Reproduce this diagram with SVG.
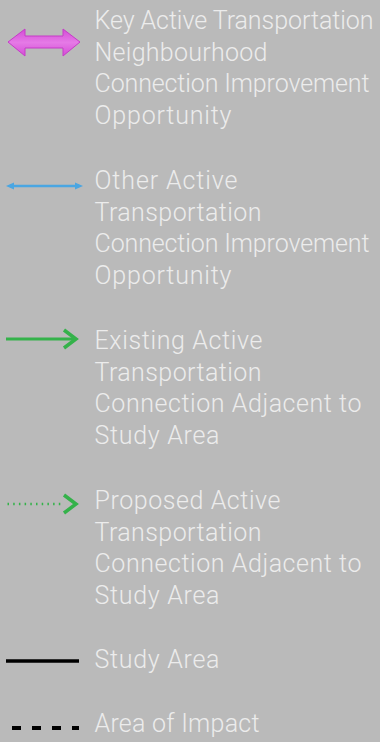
<svg xmlns="http://www.w3.org/2000/svg" width="380" height="742" viewBox="0 0 380 742">
<style>
.t{font-family:Roboto,"Liberation Sans",sans-serif;font-weight:300;font-size:25px;fill:#ececec}
</style>
<defs>
<linearGradient id="mg" x1="0" y1="0" x2="0" y2="1">
<stop offset="0" stop-color="#d44cd6"/><stop offset="0.5" stop-color="#e57ae6"/><stop offset="1" stop-color="#d44cd6"/>
</linearGradient>
</defs>
<rect width="380" height="742" fill="#bababa"/>
<g id="connectors">
<g id="sym-key">
<polygon points="8,42 25,29 25,36 63,36 63,29 80,42 63,56 63,48 25,48 25,56" fill="url(#mg)" stroke="#c63cc8" stroke-width="1"/>
</g>
<g id="sym-other">
<line x1="10" y1="186" x2="79" y2="186" stroke="#4aa6e2" stroke-width="2.5"/>
<polygon points="6,186 14,182.5 14,189.5" fill="#4aa6e2"/>
<polygon points="83,186 75,182.5 75,189.5" fill="#4aa6e2"/>
</g>
<g id="sym-existing">
<line x1="6" y1="339" x2="74" y2="339" stroke="#34b24a" stroke-width="3"/>
<polyline points="64,330 76,339 64,348" fill="none" stroke="#34b24a" stroke-width="3.5"/>
</g>
<g id="sym-proposed">
<line x1="7.5" y1="504" x2="62" y2="504" stroke="#34b24a" stroke-width="2.5" stroke-dasharray="1.5 4.2"/>
<polyline points="64,495 76,504 64,513" fill="none" stroke="#34b24a" stroke-width="3.5"/>
</g>
<g id="sym-study">
<line x1="6" y1="661" x2="79" y2="661" stroke="#000" stroke-width="3.5"/>
</g>
<g id="sym-impact">
<line x1="12" y1="728" x2="79" y2="728" stroke="#000" stroke-width="4" stroke-dasharray="9 11"/>
</g>
</g>
<g id="label-key">
<text class="t" x="94.5" y="29" textLength="279" lengthAdjust="spacing">Key Active Transportation</text>
<text class="t" x="94.5" y="60.5" textLength="173" lengthAdjust="spacing">Neighbourhood</text>
<text class="t" x="94.5" y="92" textLength="275" lengthAdjust="spacing">Connection Improvement</text>
<text class="t" x="94.5" y="123.5" textLength="137" lengthAdjust="spacing">Opportunity</text>
</g>
<g id="label-other">
<text class="t" x="94.5" y="189" textLength="143" lengthAdjust="spacing">Other Active</text>
<text class="t" x="94.5" y="220.5" textLength="167" lengthAdjust="spacing">Transportation</text>
<text class="t" x="94.5" y="252" textLength="275" lengthAdjust="spacing">Connection Improvement</text>
<text class="t" x="94.5" y="283.5" textLength="137" lengthAdjust="spacing">Opportunity</text>
</g>
<g id="label-existing">
<text class="t" x="94.5" y="349" textLength="168" lengthAdjust="spacing">Existing Active</text>
<text class="t" x="94.5" y="380.5" textLength="167" lengthAdjust="spacing">Transportation</text>
<text class="t" x="94.5" y="412" textLength="267" lengthAdjust="spacing">Connection Adjacent to</text>
<text class="t" x="94.5" y="443.5" textLength="125" lengthAdjust="spacing">Study Area</text>
</g>
<g id="label-proposed">
<text class="t" x="94.5" y="509" textLength="186" lengthAdjust="spacing">Proposed Active</text>
<text class="t" x="94.5" y="540.5" textLength="167" lengthAdjust="spacing">Transportation</text>
<text class="t" x="94.5" y="572" textLength="267" lengthAdjust="spacing">Connection Adjacent to</text>
<text class="t" x="94.5" y="603.5" textLength="125" lengthAdjust="spacing">Study Area</text>
</g>
<g id="label-study">
<text class="t" x="94.5" y="668" textLength="125" lengthAdjust="spacing">Study Area</text>
</g>
<g id="label-impact">
<text class="t" x="94.5" y="732" textLength="165" lengthAdjust="spacing">Area of Impact</text>
</g>
</svg>
